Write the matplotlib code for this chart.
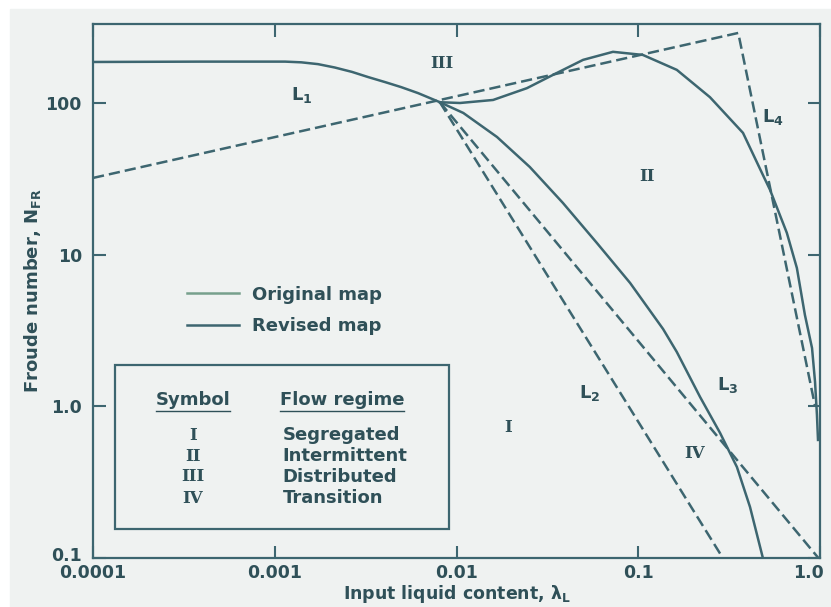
#!/usr/bin/env python3
"""Beggs-Brill horizontal flow-regime map (original vs revised boundaries)."""
import matplotlib
matplotlib.use("Agg")
import matplotlib.pyplot as plt
from matplotlib.lines import Line2D
from matplotlib.patches import Rectangle
from matplotlib.transforms import ScaledTranslation

OUT = "out.png"

INK = "#2f5058"
LINE = "#3d6670"
ORIG_LEG = "#77a08c"
BG = "#eff2f1"

# Axis ticks
X_TICKS = [1e-4, 1e-3, 1e-2, 1e-1, 1.0]
X_TICK_LABELS = ["0.0001", "0.001", "0.01", "0.1", "1.0"]
Y_TICKS = [0.1, 1.0, 10, 100]
Y_TICK_LABELS = ["0.1", "1.0", "10", "100"]

# Revised map (solid): L1 joined to the falling L3 boundary
REV_A_X = [1e-4, 3.9e-4, 1.14e-3, 1.4e-3, 1.73e-3, 2.14e-3, 2.66e-3, 3.26e-3,
           4.05e-3, 4.96e-3, 6.14e-3, 8.1e-3,
           0.0109, 0.0167, 0.0253, 0.0385, 0.0593, 0.0902, 0.137, 0.163,
           0.219, 0.282, 0.349, 0.412, 0.485]
REV_A_Y = [186, 187, 187, 185, 180, 171, 160, 148,
           137, 127, 116, 101,
           85.8, 59.6, 37.8, 21.9, 11.9, 6.5, 3.23, 2.28,
           1.15, 0.667, 0.398, 0.217, 0.1]

# Revised map (solid): distributed hump and L4 boundary
REV_B_X = [8.1e-3, 0.01045, 0.0159, 0.0244, 0.034, 0.0497, 0.0726, 0.106,
           0.163, 0.248, 0.377, 0.485, 0.531, 0.657, 0.746, 0.826, 0.904,
           0.939, 0.962, 0.975]
REV_B_Y = [101, 99.8, 104.5, 125, 153, 192, 217, 207,
           165, 109, 63.4, 33.5, 26.7, 13.9, 8.16, 4.0, 2.42,
           1.45, 0.877, 0.60]

# Original map (dashed): straight boundaries on log-log axes
ORIG_L14_X = [1e-4, 0.355, 0.94]
ORIG_L14_Y = [32, 289, 1.0]
ORIG_L2_X = [8.1e-3, 0.292]
ORIG_L2_Y = [101, 0.1]
ORIG_L3_X = [8.1e-3, 0.98]
ORIG_L3_Y = [101, 0.1]

# Region / boundary labels
LABELS = ["III", "L$_1$", "II", "L$_4$", "L$_2$", "I", "L$_3$", "IV"]
LABEL_X = [0.0083, 0.00141, 0.112, 0.551, 0.0544, 0.0192, 0.312, 0.205]
LABEL_Y = [183, 113, 32.5, 80.7, 1.22, 0.73, 1.38, 0.49]

SYMBOLS = ["I", "II", "III", "IV"]
REGIMES = ["Segregated", "Intermittent", "Distributed", "Transition"]


def apply_style():
    plt.rcParams.update({
        "font.family": ["DejaVu Sans"],
        "font.weight": "bold",
        "axes.labelweight": "bold",
        "mathtext.fontset": "custom",
        "mathtext.rm": "DejaVu Sans:bold",
        "mathtext.it": "DejaVu Sans:bold",
        "mathtext.bf": "DejaVu Sans:bold",
        "text.color": INK,
        "axes.edgecolor": LINE,
        "axes.linewidth": 1.6,
        "xtick.color": LINE,
        "ytick.color": LINE,
        "xtick.labelcolor": INK,
        "ytick.labelcolor": INK,
    })


def underline(fig, txt, renderer, off=2.0):
    bb = txt.get_window_extent(renderer)
    y = bb.y0 - off
    inv = fig.transFigure.inverted()
    (x0, y0), (x1, _) = inv.transform([(bb.x0, y), (bb.x1, y)])
    fig.add_artist(Line2D([x0, x1], [y0, y0], transform=fig.transFigure,
                          color=INK, lw=1.0))


def main():
    apply_style()
    fig = plt.figure(figsize=(8.31, 6.07), dpi=100)
    fig.patch.set_facecolor("white")
    fig.add_artist(Rectangle((10 / 831, 0), 1, 1 - 9 / 607,
                             transform=fig.transFigure, color=BG, zorder=-10))
    ax = fig.add_axes([93 / 831, 1 - 558 / 607, 727 / 831, 534 / 607])
    ax.set_facecolor(BG)
    ax.set_xscale("log")
    ax.set_yscale("log")
    ax.set_xlim(1e-4, 1.0)
    ax.set_ylim(0.1, 331)

    ax.plot(REV_A_X, REV_A_Y, color=LINE, lw=1.8, zorder=3)
    ax.plot(REV_B_X, REV_B_Y, color=LINE, lw=1.8, zorder=3)
    for xs, ys in [(ORIG_L14_X, ORIG_L14_Y), (ORIG_L2_X, ORIG_L2_Y),
                   (ORIG_L3_X, ORIG_L3_Y)]:
        ax.plot(xs, ys, color=LINE, lw=1.8, dashes=(4.5, 2.0), zorder=3)

    for lab, x, y in zip(LABELS, LABEL_X, LABEL_Y):
        if lab.startswith("L"):
            ax.text(x, y, lab, ha="center", va="center", fontsize=13,
                    color=INK)
        else:
            ax.text(x, y, lab, ha="center", va="center", fontsize=12,
                    family="DejaVu Serif", weight="bold", color=INK)

    ax.set_xticks(X_TICKS)
    ax.set_xticklabels(X_TICK_LABELS)
    ax.set_yticks(Y_TICKS)
    ax.set_yticklabels(Y_TICK_LABELS)
    ax.minorticks_off()
    ax.tick_params(which="major", direction="in", length=9, width=1.5,
                   top=True, right=True, labelsize=12.5)
    ax.tick_params(axis="x", pad=4)
    ax.tick_params(axis="y", pad=8)
    for t in ax.get_xticklabels() + ax.get_yticklabels():
        t.set_fontweight("bold")
    ax.get_xticklabels()[-1].set_ha("right")
    ax.get_xticklabels()[-1].set_transform(
        ax.get_xticklabels()[-1].get_transform()
        + ScaledTranslation(3 / 72, 0, fig.dpi_scale_trans))
    ax.get_yticklabels()[0].set_transform(
        ax.get_yticklabels()[0].get_transform()
        + ScaledTranslation(0, 3 / 72, fig.dpi_scale_trans))

    ax.set_xlabel("Input liquid content, $\\lambda_L$", fontsize=12.5,
                  labelpad=1, color=INK)
    ax.set_ylabel("Froude number, N$_{FR}$", fontsize=13, labelpad=2,
                  color=INK)

    # legend for original / revised map
    handles = [Line2D([0], [0], color=ORIG_LEG, lw=1.8, label="Original map"),
               Line2D([0], [0], color=LINE, lw=1.8, label="Revised map")]
    ax.legend(handles=handles, loc="upper left", bbox_to_anchor=(0.129, 0.51),
              frameon=False, fontsize=13, handlelength=2.9,
              handletextpad=0.7, labelspacing=0.75, borderpad=0,
              borderaxespad=0, labelcolor=INK)

    # symbol / flow regime table
    ax.add_patch(Rectangle((0.030, 0.054), 0.460, 0.307,
                           transform=ax.transAxes, facecolor=BG,
                           edgecolor=LINE, lw=1.6, zorder=4))
    t_sym = ax.text(0.1376, 0.296, "Symbol", transform=ax.transAxes,
                    ha="center", va="center", fontsize=13, zorder=5)
    t_reg = ax.text(0.257, 0.296, "Flow regime", transform=ax.transAxes,
                    ha="left", va="center", fontsize=13, zorder=5)
    rows_y = [0.230, 0.191, 0.152, 0.112]
    for s, r, y in zip(SYMBOLS, REGIMES, rows_y):
        ax.text(0.1376, y, s, transform=ax.transAxes, ha="center",
                va="center", fontsize=12, family="DejaVu Serif",
                weight="bold", zorder=5)
        ax.text(0.261, y, r, transform=ax.transAxes, ha="left",
                va="center", fontsize=13, zorder=5)

    fig.canvas.draw()
    renderer = fig.canvas.get_renderer()
    underline(fig, t_sym, renderer)
    underline(fig, t_reg, renderer)

    fig.savefig(OUT, dpi=100, facecolor=fig.get_facecolor())


if __name__ == "__main__":
    main()
